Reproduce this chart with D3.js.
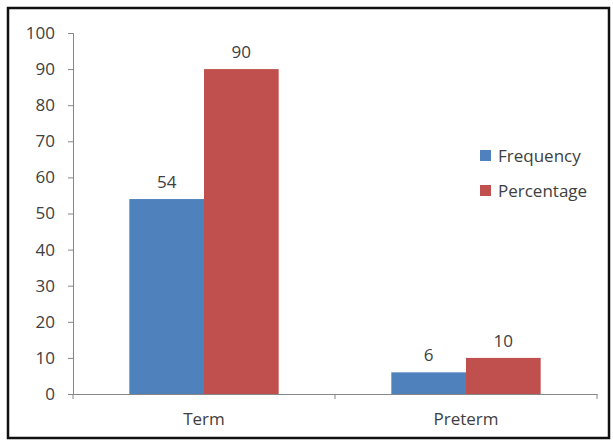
<!DOCTYPE html>
<html>
<head>
<meta charset="utf-8">
<script src="https://cdn.jsdelivr.net/npm/d3@7"></script>
<style>
body { margin: 0; background: #fff; }
text { font-family: "Open Sans", "Noto Sans", sans-serif; fill: #404040; }
</style>
</head>
<body>
<div id="chart"></div>
<script>
var categories = ["Term", "Preterm"];
var seriesNames = ["Frequency", "Percentage"];
var frequency = [54, 6];
var percentage = [90, 10];
var yTicks = [0, 10, 20, 30, 40, 50, 60, 70, 80, 90, 100];
var colors = ["#4F81BD", "#C0504D"];

var W = 613, H = 442;
var svg = d3.select("#chart").append("svg")
    .attr("width", W)
    .attr("height", H);

// frame round the chart
svg.append("rect")
    .attr("x", 8).attr("y", 8)
    .attr("width", 601).attr("height", 430)
    .attr("fill", "#fff")
    .attr("stroke", "#111")
    .attr("stroke-width", 2.5);

var x = d3.scaleBand()
    .domain(categories)
    .range([73, 597])
    .paddingInner(0)
    .paddingOuter(0);

var x1 = d3.scaleBand()
    .domain(seriesNames)
    .range([x.bandwidth() * 0.215, x.bandwidth() * 0.785]);

var y = d3.scaleLinear()
    .domain([0, 100])
    .range([394, 33]);

var table = categories.map(function(c, i) {
    return { cat: c, vals: [frequency[i], percentage[i]] };
});

// y axis
var yAxis = svg.append("g")
    .attr("transform", "translate(73,0)")
    .call(d3.axisLeft(y).tickValues(yTicks).tickSize(5).tickPadding(13).tickFormat(d3.format("d")));
yAxis.select(".domain").attr("stroke", "#868686");
yAxis.selectAll(".tick line").attr("stroke", "#868686");
yAxis.selectAll(".tick text").style("font-size", "17px").attr("fill", "#404040");

// x axis
var xAxis = svg.append("g")
    .attr("transform", "translate(0," + y(0) + ")")
    .call(d3.axisBottom(x).tickSize(0).tickPadding(19));
xAxis.select(".domain").attr("stroke", "#868686");
xAxis.selectAll(".tick text").style("font-size", "17px").attr("fill", "#404040");
// category divider ticks
svg.append("g").selectAll("line")
    .data(categories.concat([""]))
    .enter().append("line")
    .attr("x1", function(d, i) { return x.range()[0] + i * x.step(); })
    .attr("x2", function(d, i) { return x.range()[0] + i * x.step(); })
    .attr("y1", y(0))
    .attr("y2", y(0) + 5)
    .attr("stroke", "#868686");

// bars
var groups = svg.append("g")
  .selectAll("g")
  .data(table)
  .enter().append("g")
    .attr("transform", function(d) { return "translate(" + x(d.cat) + ",0)"; });

groups.selectAll("rect")
  .data(function(d) { return d.vals; })
  .enter().append("rect")
    .attr("x", function(d, i) { return x1(seriesNames[i]); })
    .attr("y", function(d) { return y(d); })
    .attr("width", x1.bandwidth())
    .attr("height", function(d) { return y(0) - y(d); })
    .attr("fill", function(d, i) { return colors[i]; });

groups.selectAll("text")
  .data(function(d) { return d.vals; })
  .enter().append("text")
    .attr("x", function(d, i) { return x1(seriesNames[i]) + x1.bandwidth() / 2; })
    .attr("y", function(d) { return y(d) - 11; })
    .attr("text-anchor", "middle")
    .style("font-size", "17px")
    .text(function(d) { return d; });

// legend
var legend = svg.append("g")
  .selectAll("g")
  .data(seriesNames)
  .enter().append("g")
    .attr("transform", function(d, i) { return "translate(480," + (150 + i * 35) + ")"; });

legend.append("rect")
    .attr("width", 11).attr("height", 11)
    .attr("fill", function(d, i) { return colors[i]; });

legend.append("text")
    .attr("x", 18).attr("y", 12)
    .style("font-size", "17px")
    .text(function(d) { return d; });
</script>
</body>
</html>
